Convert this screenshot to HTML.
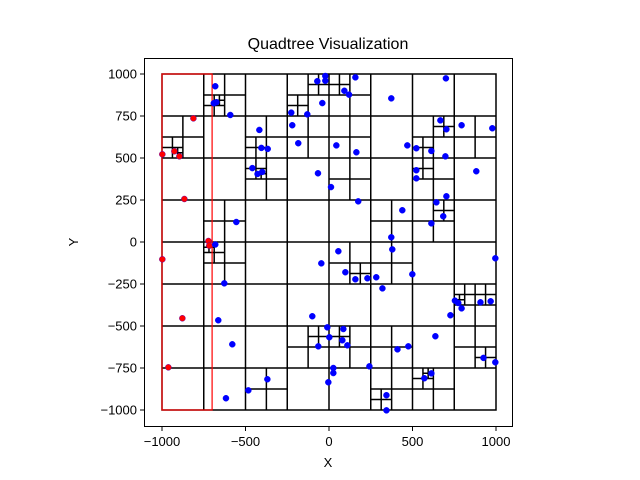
<!DOCTYPE html>
<html><head><meta charset="utf-8">
<style>
html,body{margin:0;padding:0;background:#fff;}
svg{display:block;font-family:"Liberation Sans","DejaVu Sans",sans-serif;}
</style></head>
<body>
<svg id="chart" width="640" height="480" viewBox="0 0 640 480" xmlns="http://www.w3.org/2000/svg">
<rect x="0" y="0" width="640" height="480" fill="#fff"/>
<text x="328" y="49" font-size="16" text-anchor="middle" fill="#000">Quadtree Visualization</text>
<g id="tree"></g>
<g id="query"></g>
<g id="pts"></g>
<rect x="144.5" y="58.5" width="368" height="368" fill="none" stroke="#000" stroke-width="1"/>
<g id="ticks"></g>
<text x="328" y="467" font-size="13" text-anchor="middle">X</text>
<text x="78" y="242" font-size="13" text-anchor="middle" transform="rotate(-90 78 242)">Y</text>
</svg>
<script>
// data points
const pointX = [-998,-926,-896,-812,-866,-722,-717,-998,-878,-962,
 -681,-690,-674,-591,-417,-405,-367,-459,-428,-400,-555,-681,-70,-22,-22,-40,-226,-130,-220,-184,-66,12,
 158,700,92,120,373,667,703,794,978,44,164,469,523,613,697,523,523,882,175,439,703,643,684,613,373,
 -627,-46,-663,-100,-579,-10,2,-64,-369,-483,-617,26,26,-4,
 56,379,996,98,158,230,283,499,320,754,774,794,727,907,968,86,80,110,410,475,637,925,996,242,613,571,344,344];
const pointY = [522,540,510,736,256,6,-22,-103,-454,-746,
 927,826,832,756,667,560,554,440,405,417,119,-15,957,988,960,827,770,760,695,588,409,327,
 980,974,900,877,855,724,671,695,677,575,534,575,558,542,510,427,379,421,242,189,272,236,153,111,28,
 -246,-127,-466,-442,-609,-508,-567,-621,-817,-883,-930,-750,-780,-835,
 -55,-44,-97,-180,-222,-216,-210,-192,-276,-349,-363,-395,-436,-359,-353,-518,-585,-615,-639,-621,-561,-690,-716,-740,-782,-811,-912,-1002];
// quadtree subdivided nodes: center x, center y, half size
const nodeCX = [0,-500,500,-500,500,
 -750,-625,-687.5,-656.25,-875,-937.5,-906.25,-250,-125,-62.5,-187.5,-125,-375,-437.5,-750,-625,-250,-375,-437.5,-406.25,
 250,125,62.5,125,750,625,687.5,562.5,875,250,125,375,750,625,562.5,625,687.5,
 -750,-625,-687.5,-718.75,-750,-250,-250,-125,-62.5,-375,
 250,125,187.5,375,750,875,812.5,781.25,937.5,250,125,62.5,375,375,312.5,750,625,562.5,593.75,875,937.5];
const nodeCY = [0,500,500,-500,-500,
 750,875,812.5,843.75,625,562.5,531.25,750,875,937.5,812.5,625,625,562.5,250,125,250,375,437.5,406.25,
 750,875,937.5,625,750,625,687.5,562.5,625,250,375,125,250,375,437.5,125,187.5,
 -250,-125,-62.5,-31.25,-750,-250,-750,-625,-562.5,-875,
 -250,-125,-187.5,-125,-250,-375,-312.5,-343.75,-312.5,-750,-625,-562.5,-625,-875,-937.5,-750,-875,-812.5,-781.25,-625,-687.5];
const nodeHalf = [1000,500,500,500,500,
 250,125,62.5,31.25,125,62.5,31.25,250,125,62.5,62.5,125,125,62.5,250,125,250,125,62.5,31.25,
 250,125,62.5,125,250,125,62.5,62.5,125,250,125,125,250,125,62.5,125,62.5,
 250,125,62.5,31.25,250,250,250,125,62.5,125,
 250,125,62.5,125,250,125,62.5,31.25,62.5,250,125,62.5,125,125,62.5,250,125,62.5,31.25,125,62.5];
const queryRange = [-1000,-700,-1000,1000];
const xTicks = [-1000,-500,0,500,1000];
const yTicks = [-1000,-750,-500,-250,0,250,500,750,1000];

const NS="http://www.w3.org/2000/svg";
const sx = v => 329 + v*0.167;
const sy = v => 242 - v*0.168;
function mk(tag, attrs, parent){const e=document.createElementNS(NS,tag);for(const k in attrs)e.setAttribute(k,attrs[k]);parent.appendChild(e);return e;}

const tree=document.getElementById('tree');
let b=mk('rect',{x:sx(-1000),y:sy(1000),width:sx(1000)-sx(-1000),height:sy(-1000)-sy(1000),fill:'none',stroke:'#000','stroke-width':1.5},tree);


for(let i=0;i<nodeCX.length;i++){
  const cx=nodeCX[i],cy=nodeCY[i],h=nodeHalf[i];
  const v=mk('line',{x1:sx(cx),x2:sx(cx),y1:sy(cy+h),y2:sy(cy-h),stroke:'#000','stroke-width':1.5},tree);
  
  
  const hz=mk('line',{x1:sx(cx-h),x2:sx(cx+h),y1:sy(cy),y2:sy(cy),stroke:'#000','stroke-width':1.5},tree);
  
  
}
const q=mk('rect',{x:sx(queryRange[0]),y:sy(queryRange[3]),width:sx(queryRange[1])-sx(queryRange[0]),height:sy(queryRange[2])-sy(queryRange[3]),fill:'none',stroke:'#ff0000','stroke-width':1.2},document.getElementById('query'));



const pts=document.getElementById('pts');
for(let i=0;i<pointX.length;i++){
  const x=pointX[i],y=pointY[i];
  const inQ = x>=queryRange[0]&&x<=queryRange[1]&&y>=queryRange[2]&&y<=queryRange[3];
  const c=mk('circle',{cx:sx(x),cy:sy(y),r:3,fill:inQ?'#ff0000':'#0000ff',stroke:inQ?'#6a00a0':'#0000ff','stroke-width':0.5},pts);
  
  
}
const tk=document.getElementById('ticks');
xTicks.forEach(t=>{
  const l=mk('line',{x1:sx(t),x2:sx(t),y1:427,y2:431,stroke:'#000','stroke-width':1},tk);
  
  
  const s=mk('text',{x:sx(t),y:446,'font-size':13,'text-anchor':'middle'},tk);
  s.textContent=(t<0?'\u2212'+(-t):String(t));
  
  
});
yTicks.forEach(t=>{
  const l=mk('line',{x1:140,x2:144.5,y1:sy(t),y2:sy(t),stroke:'#000','stroke-width':1},tk);
  
  
  const s=mk('text',{x:137,y:sy(t)+4.5,'font-size':13,'text-anchor':'end'},tk);
  s.textContent=(t<0?'\u2212'+(-t):String(t));
  
  
});
</script>
</body></html>
